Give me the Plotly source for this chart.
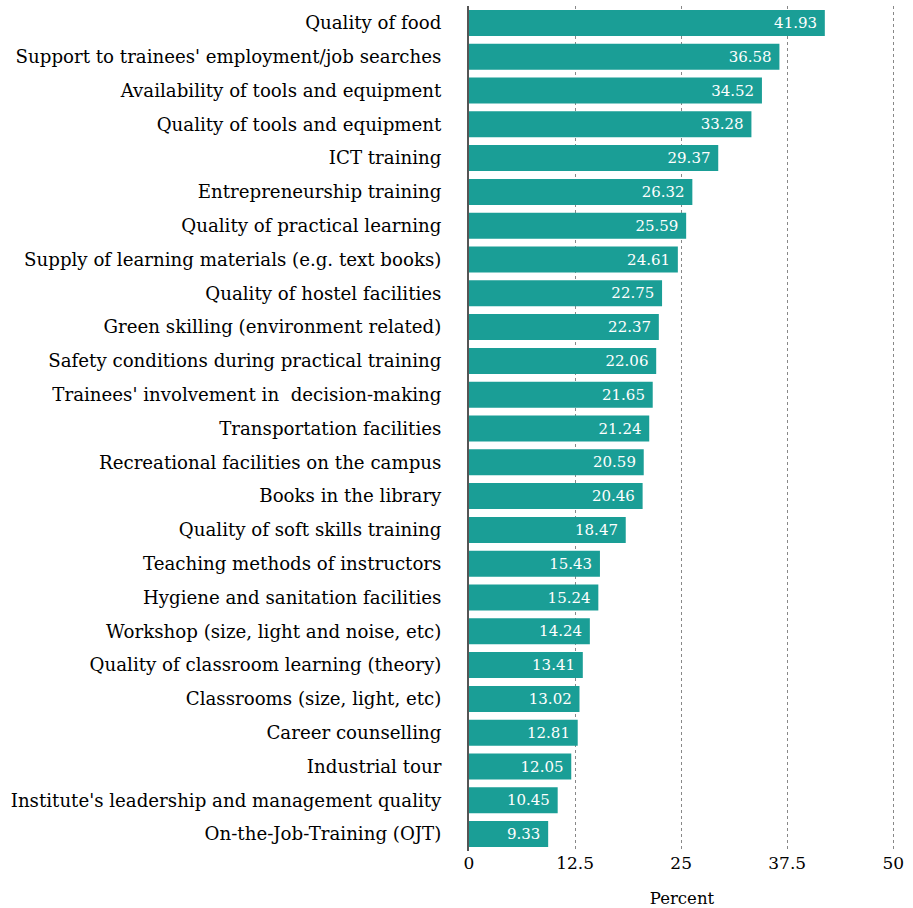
import plotly.graph_objects as go

categories = [
    "Quality of food",
    "Support to trainees' employment/job searches",
    "Availability of tools and equipment",
    "Quality of tools and equipment",
    "ICT training",
    "Entrepreneurship training",
    "Quality of practical learning",
    "Supply of learning materials (e.g. text books)",
    "Quality of hostel facilities",
    "Green skilling (environment related)",
    "Safety conditions during practical training",
    "Trainees' involvement in  decision-making",
    "Transportation facilities",
    "Recreational facilities on the campus",
    "Books in the library",
    "Quality of soft skills training",
    "Teaching methods of instructors",
    "Hygiene and sanitation facilities",
    "Workshop (size, light and noise, etc)",
    "Quality of classroom learning (theory)",
    "Classrooms (size, light, etc)",
    "Career counselling",
    "Industrial tour",
    "Institute's leadership and management quality",
    "On-the-Job-Training (OJT)",
]
percent = [41.93, 36.58, 34.52, 33.28, 29.37, 26.32, 25.59, 24.61, 22.75, 22.37,
           22.06, 21.65, 21.24, 20.59, 20.46, 18.47, 15.43, 15.24, 14.24, 13.41,
           13.02, 12.81, 12.05, 10.45, 9.33]
tick_vals = [0, 12.5, 25, 37.5, 50]
tick_text = ["0", "12.5", "25", "37.5", "50"]

FONT = "DejaVu Serif"
TEAL = "#1a9e96"

fig = go.Figure(
    go.Bar(
        x=percent,
        y=[c.replace("  ", "\u00a0 ") for c in categories],
        orientation="h",
        marker=dict(color=TEAL, line=dict(width=0)),
        width=0.77,
        text=[f"{v:.2f}\u00a0" for v in percent],
        textposition="inside",
        insidetextanchor="end",
        textfont=dict(family=FONT, size=15, color="white"),
        cliponaxis=False,
        hoverinfo="skip",
    )
)

fig.update_layout(
    width=913,
    height=908,
    margin=dict(l=469, r=18, t=6, b=57),
    paper_bgcolor="white",
    plot_bgcolor="white",
    showlegend=False,
    font=dict(family=FONT, size=16, color="black"),
    uniformtext=dict(minsize=15, mode="show"),
)
fig.update_xaxes(
    range=[0, 50.2],
    tickvals=tick_vals,
    ticktext=tick_text,
    showgrid=True,
    gridcolor="#888888",
    griddash="dot",
    gridwidth=1,
    zeroline=False,
    showline=False,
    ticks="",
    automargin=False,
    tickfont=dict(family=FONT, size=17, color="black"),
    title=dict(text="Percent", font=dict(family=FONT, size=16.5, color="black"), standoff=20),
)
fig.update_yaxes(
    autorange="reversed",
    showgrid=False,
    zeroline=False,
    showline=True,
    linecolor="#555555",
    linewidth=2,
    ticks="",
    automargin=False,
    ticklabelstandoff=22,
    tickfont=dict(family=FONT, size=18.2, color="black"),
)

fig.write_html("out.html")
